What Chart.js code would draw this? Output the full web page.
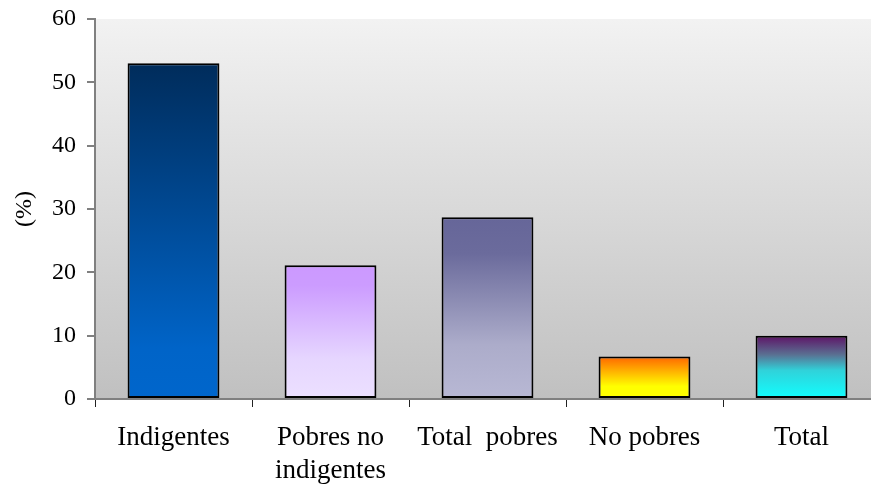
<!DOCTYPE html>
<html>
<head>
<meta charset="utf-8">
<script src="https://cdn.jsdelivr.net/npm/chart.js@4/dist/chart.umd.min.js"></script>
<style>
  html, body { margin: 0; padding: 0; background: #fff; overflow: hidden; }
  #wrap { width: 900px; height: 487px; }
</style>
</head>
<body>
<div id="wrap"><canvas id="myChart" width="900" height="487"></canvas></div>
<script>
// Data
const categories = ["Indigentes", ["Pobres no", "indigentes"], "Total  pobres", "No pobres", "Total"];
const values = [53.0, 21.1, 28.7, 6.7, 10.0];
const yTicks = [0, 10, 20, 30, 40, 50, 60];

// gradient stops for each bar (top -> bottom)
const barGradients = [
  [[0, "#002c5b"], [0.85, "#0064c8"], [1, "#0066cc"]],
  [[0, "#cc99ff"], [0.15, "#cc9cff"], [0.7, "#e6d6ff"], [1, "#ece0ff"]],
  [[0, "#666699"], [0.2, "#6b6b9c"], [0.7, "#acacca"], [1, "#b8b8d4"]],
  [[0, "#ff6600"], [0.7, "#ffff00"], [1, "#ffff00"]],
  [[0, "#5e1266"], [0.3, "#5a7092"], [0.55, "#30d2da"], [1, "#10ffff"]],
];

const ctx = document.getElementById("myChart").getContext("2d");

// plot background gradient
const bgPlugin = {
  id: "plotBg",
  beforeDraw(chart) {
    const { ctx, chartArea } = chart;
    if (!chartArea) return;
    const g = ctx.createLinearGradient(0, chartArea.top, 0, chartArea.bottom);
    g.addColorStop(0, "#f2f2f2");
    g.addColorStop(1, "#c0c0c0");
    ctx.save();
    ctx.fillStyle = g;
    ctx.fillRect(chartArea.left, chartArea.top, chartArea.right - chartArea.left, chartArea.bottom - chartArea.top);
    ctx.restore();
  },
};

function barFill(c) {
  const chart = c.chart;
  const y = chart.scales.y;
  if (!y || !chart.chartArea) return "#888";
  const top = y.getPixelForValue(values[c.dataIndex]);
  const bottom = y.getPixelForValue(0);
  const g = chart.ctx.createLinearGradient(0, top, 0, bottom);
  barGradients[c.dataIndex].forEach(([o, col]) => g.addColorStop(o, col));
  return g;
}

new Chart(ctx, {
  type: "bar",
  data: {
    labels: categories,
    datasets: [
      {
        data: values,
        backgroundColor: barFill,
        borderColor: "#000000",
        borderWidth: 2,
        borderSkipped: false,
        barPercentage: 0.585,
        categoryPercentage: 1,
      },
    ],
  },
  options: {
    responsive: false,
    animation: false,
    layout: { padding: { top: 19, right: 20, left: 0, bottom: 0 } },
    plugins: { legend: { display: false }, tooltip: { enabled: false } },
    scales: {
      x: {
        offset: true,
        grid: { offset: true, drawOnChartArea: false, drawTicks: true, tickLength: 8, color: "#222", lineWidth: 1 },
        border: { color: "#808080", width: 2 },
        ticks: { color: "#000", font: { family: "Liberation Serif", size: 27 }, padding: 15, maxRotation: 0, autoSkip: false },
        afterFit(scale) { scale.height = 88; },
      },
      y: {
        min: 0,
        max: 60,
        afterBuildTicks(scale) { scale.ticks = yTicks.map((v) => ({ value: v })); },
        grid: { drawOnChartArea: false, drawTicks: true, tickLength: 8, color: "#808080", lineWidth: 2 },
        border: { color: "#808080", width: 2 },
        ticks: { color: "#000", font: { family: "Liberation Serif", size: 24 }, padding: 11 },
        title: { display: true, text: "(%)", color: "#000", font: { family: "Liberation Serif", size: 24 }, padding: { top: 10 } },
        afterFit(scale) {
          scale.width = 95;
          scale.paddingTop = 0;
          scale.paddingBottom = 0;
        },
      },
    },
  },
  plugins: [bgPlugin],
});
</script>
</body>
</html>
